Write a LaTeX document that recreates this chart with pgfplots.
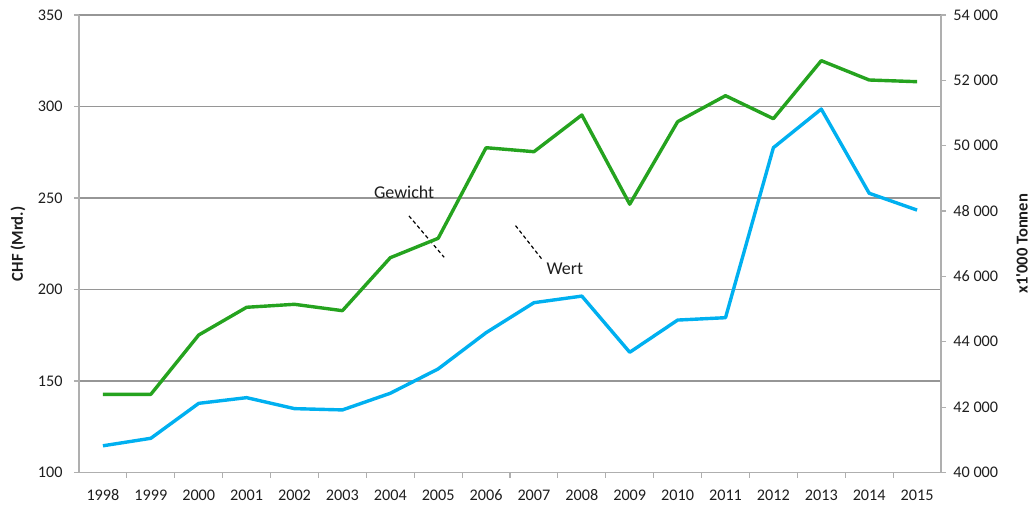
\documentclass[border=0pt]{standalone}
\usepackage{fontspec}
\setmainfont{Carlito}[Ligatures=TeXOff]
\usepackage{pgfplots}
\pgfplotsset{compat=1.18}
\definecolor{gridc}{RGB}{150,150,150}
\definecolor{axc}{RGB}{175,175,175}
\definecolor{gr}{RGB}{37,163,31}
\definecolor{bl}{RGB}{0,176,240}
\definecolor{txt}{RGB}{30,30,30}
\begin{document}
\begin{tikzpicture}[x=1pt,y=1pt]
\path[use as bounding box] (0,0) rectangle (518,255);
\begin{axis}[
  at={(39.5pt,18.75pt)}, anchor=south west,
  scale only axis, width=431pt, height=228.75pt,
  xmin=-0.5, xmax=17.5, ymin=100, ymax=350,
  axis x line*=bottom, axis y line*=left,
  axis line style={draw=axc, line width=0.6pt, -},
  xtick={0,...,17},
  xticklabels={1998,1999,2000,2001,2002,2003,2004,2005,2006,2007,2008,2009,2010,2011,2012,2013,2014,2015},
  minor xtick={0.5,1.5,...,16.5},
  x tick style={draw=none},
  minor x tick style={draw=axc, line width=0.6pt},
  minor tick length=2.5pt,
  ytick={100,150,...,350},
  y tick style={draw=axc, line width=0.6pt},
  major tick length=2.5pt,
  tick align=outside,
  ymajorgrids, grid style={draw=gridc, line width=0.6pt},
  /pgf/number format/assume math mode=true,
  tick label style={font=\fontsize{8.1}{10}\selectfont, text=txt},
  xticklabel style={anchor=center, yshift=-9pt},
  yticklabel style={anchor=east, inner sep=0pt, xshift=-5.5pt},
  ylabel={CHF (Mrd.)},
  ylabel style={font=\fontsize{8.3}{10}\selectfont\bfseries, text=txt, at={(axis description cs:-0.0708,0.5)}, anchor=center},
  clip=false,
]
\addplot[bl, line width=1.7pt, line join=round] coordinates {
(0,114.6) (1,118.7) (2,137.8) (3,140.9) (4,134.9) (5,134.2) (6,143.3) (7,156.6) (8,176.4)
(9,192.8) (10,196.4) (11,165.7) (12,183.3) (13,184.6) (14,277.5) (15,298.6) (16,252.6) (17,243.4)};
\node[font=\fontsize{9}{11}\selectfont, text=txt] at (axis cs:6.29,253.3) {Gewicht};
\draw[black, line width=0.6pt, dash pattern=on 1.8pt off 1.4pt] (axis cs:6.39,240.2) -- (axis cs:7.125,217.6);
\draw[black, line width=0.6pt, dash pattern=on 1.8pt off 1.4pt] (axis cs:8.616,234.9) -- (axis cs:9.18,216.1);
\node[font=\fontsize{9}{11}\selectfont, text=txt] at (axis cs:9.645,211.5) {Wert};
\end{axis}
\begin{axis}[
  at={(39.5pt,18.75pt)}, anchor=south west,
  scale only axis, width=431pt, height=228.75pt,
  xmin=-0.5, xmax=17.5, ymin=40000, ymax=54000,
  axis x line=none, axis y line*=right,
  axis line style={draw=axc, line width=0.6pt, -},
  ytick={40000,42000,...,54000},
  scaled y ticks=false,
  y tick style={draw=axc, line width=0.6pt},
  major tick length=2.5pt,
  tick align=outside,
  /pgf/number format/assume math mode=true,
  /pgf/number format/1000 sep={\ },
  tick label style={font=\fontsize{8.1}{10}\selectfont, text=txt},
  yticklabel style={anchor=west, inner sep=0pt, xshift=3.5pt},
  ylabel={x1'000 Tonnen},
  ylabel style={font=\fontsize{8.3}{10}\selectfont\bfseries, text=txt, at={(axis description cs:1.094,0.5)}, anchor=center},
  clip=false,
]
\addplot[gr, line width=1.7pt, line join=round] coordinates {
(0,42393) (1,42393) (2,44208) (3,45056) (4,45147) (5,44952) (6,46573) (7,47167) (8,49939)
(9,49817) (10,50940) (11,48210) (12,50735) (13,51531) (14,50827) (15,52602) (16,52011) (17,51959)};
\end{axis}
\end{tikzpicture}
\end{document}
